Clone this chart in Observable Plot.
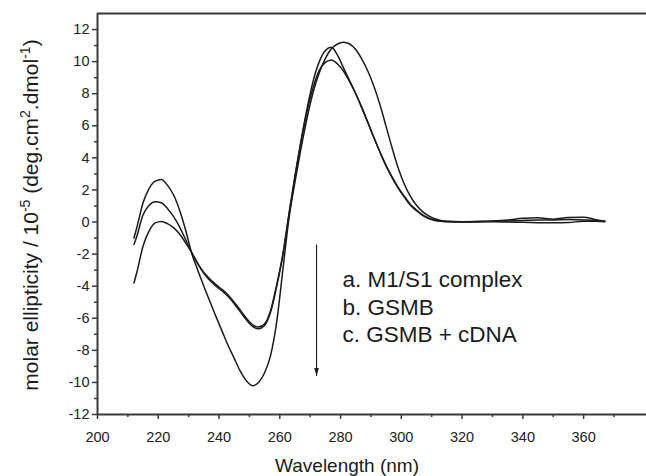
<!DOCTYPE html>
<html><head><meta charset="utf-8">
<script src="https://cdn.jsdelivr.net/npm/d3@7"></script>
<script src="https://cdn.jsdelivr.net/npm/@observablehq/plot@0.6"></script>
<style>body{margin:0;background:#fff;} svg{display:block}</style>
</head><body><div id="chart"></div>
<script>
// Wavelength grid (nm) shared by the three spectra
const wavelength = [212, 213, 215, 217, 219, 221, 223, 225, 227, 229, 231, 233, 235, 237, 239, 241, 243, 245, 247, 249, 251, 253, 255, 257, 259, 261, 263, 265, 267, 269, 271, 273, 275, 277, 279, 281, 283, 285, 287, 289, 291, 293, 295, 297, 299, 301, 303, 305, 307, 309, 311, 313, 315, 320, 325, 330, 335, 340, 345, 350, 355, 360, 364, 367];
// molar ellipticity / 10^-5
const seriesA = [-1.0, -0.3, 1.2, 2.1, 2.55, 2.65, 2.3, 1.7, 0.75, -0.5, -1.95, -3.0, -4.0, -4.95, -5.9, -6.8, -7.7, -8.5, -9.3, -9.9, -10.2, -10.0, -9.4, -8.3, -6.2, -3.0, 0.2, 2.5, 4.6, 6.5, 8.1, 9.3, 10.2, 10.8, 11.1, 11.2, 11.1, 10.75, 10.15, 9.4, 8.45, 7.3, 5.95, 4.6, 3.35, 2.35, 1.6, 1.05, 0.65, 0.38, 0.2, 0.1, 0.05, 0.02, 0.03, 0.06, 0.12, 0.24, 0.27, 0.18, 0.28, 0.3, 0.15, 0.05];
const seriesB = [-1.4, -0.85, 0.45, 1.05, 1.27, 1.2, 0.85, 0.35, -0.3, -1.1, -1.9, -2.6, -3.15, -3.55, -3.9, -4.2, -4.55, -5.0, -5.5, -6.0, -6.4, -6.55, -6.35, -5.5, -3.9, -2.0, 0.5, 2.9, 5.1, 7.1, 8.8, 10.0, 10.7, 10.9, 10.4, 9.6, 8.8, 8.0, 7.15, 6.2, 5.25, 4.35, 3.5, 2.8, 2.15, 1.6, 1.1, 0.75, 0.45, 0.25, 0.12, 0.06, 0.03, 0.01, 0.03, 0.05, 0.07, 0.1, 0.12, 0.12, 0.16, 0.13, 0.1, 0.05];
const seriesC = [-3.8, -3.1, -1.5, -0.55, -0.05, 0.04, -0.1, -0.35, -0.75, -1.3, -1.9, -2.6, -3.2, -3.65, -4.0, -4.3, -4.65, -5.1, -5.6, -6.1, -6.5, -6.65, -6.45, -5.6, -4.0, -2.1, 0.4, 2.8, 5.0, 6.9, 8.4, 9.45, 9.95, 10.1, 9.85, 9.4, 8.75, 8.0, 7.1, 6.2, 5.25, 4.35, 3.5, 2.75, 2.1, 1.55, 1.05, 0.7, 0.42, 0.22, 0.1, 0.04, 0.02, 0.0, 0.0, 0.02, 0.0, -0.02, -0.04, -0.05, -0.03, 0.05, 0.05, 0.02];

const xTicks = [200, 220, 240, 260, 280, 300, 320, 340, 360];
const xMinorTicks = [210, 230, 250, 270, 290, 310, 330, 350, 370];
const yTicks = [-12, -10, -8, -6, -4, -2, 0, 2, 4, 6, 8, 10, 12];
const yMinorTicks = [-11, -9, -7, -5, -3, -1, 1, 3, 5, 7, 9, 11];
const xDomain = [200, 380.7];
const yDomain = [-12, 13];

const legendLabels = ["a. M1/S1 complex", "b. GSMB", "c. GSMB + cDNA"];
const legendX = [280.6, 280.6, 280.6];
const legendY = [-3.6, -5.35, -7.05];
const arrowX = [272.1, 272.1];
const arrowY = [-1.4, -9.6];

const xLabel = "Wavelength (nm)";

const rows = [];
[["a", seriesA], ["b", seriesB], ["c", seriesC]].forEach(([name, vals]) =>
  vals.forEach((v, i) => rows.push({series: name, wl: wavelength[i], v})));

const legendRows = legendLabels.map((t, i) => ({t, x: legendX[i], y: legendY[i]}));

const arrowHead = {
  draw(ctx) {
    ctx.moveTo(0, 0);
    ctx.lineTo(-2.3, -8);
    ctx.lineTo(2.3, -8);
    ctx.closePath();
  }
};

const ink = "#1b1b1b";
const frame = "#3a3a3a";

const plot = Plot.plot({
  width: 646,
  height: 476,
  marginLeft: 97,
  marginRight: 0,
  marginTop: 13,
  marginBottom: 62,
  style: {fontFamily: "'Liberation Sans', Arial, sans-serif", background: "#fff", color: "#222"},
  x: {domain: xDomain, axis: null},
  y: {domain: yDomain, axis: null},
  marks: [
    Plot.axisX({ticks: xTicks, tickSize: 5, tickPadding: 12, fontSize: 14.5, label: null, anchor: "bottom", tickFormat: d => String(d), stroke: frame, strokeWidth: 1.5}),
    Plot.axisX({ticks: xMinorTicks, tickSize: 3, label: null, anchor: "bottom", tickFormat: () => "", stroke: frame, strokeWidth: 1.5}),
    Plot.axisY({ticks: yTicks, tickSize: 5, tickPadding: 3, fontSize: 14.5, label: null, anchor: "left", tickFormat: d => String(d), stroke: frame, strokeWidth: 1.5}),
    Plot.axisY({ticks: yMinorTicks, tickSize: 3, label: null, anchor: "left", tickFormat: () => "", stroke: frame, strokeWidth: 1.5}),
    Plot.ruleY([yDomain[0], yDomain[1]], {stroke: frame, strokeWidth: 2}),
    Plot.ruleX([xDomain[0]], {stroke: frame, strokeWidth: 2}),
    Plot.line(rows, {x: "wl", y: "v", z: "series", stroke: ink, strokeWidth: 1.5, curve: "monotone-x"}),
    Plot.link([0], {x1: () => arrowX[0], y1: () => arrowY[0], x2: () => arrowX[1], y2: () => arrowY[1], stroke: ink, strokeWidth: 1.1}),
    Plot.dot([0], {x: () => arrowX[1], y: () => arrowY[1], symbol: arrowHead, fill: ink, stroke: "none", r: 3}),
    Plot.text(legendRows, {x: "x", y: "y", text: "t", textAnchor: "start", fontSize: 22.5, fill: ink})
  ]
});

document.getElementById("chart").appendChild(plot);

const svg = d3.select(plot);
svg.append("text")
  .attr("x", 347).attr("y", 472)
  .attr("text-anchor", "middle")
  .attr("font-size", 19)
  .attr("fill", ink)
  .text(xLabel);

const yl = svg.append("text")
  .attr("transform", "translate(38,215) rotate(-90)")
  .attr("text-anchor", "middle")
  .attr("font-size", 21)
  .attr("fill", ink);
const parts = [["molar ellipticity / 10", false], ["-5", true], [" (deg.cm", false], ["2", true], [".dmol", false], ["-1", true], [")", false]];
parts.forEach(([s, sup], i) => {
  const t = yl.append("tspan").text(s);
  if (sup) t.attr("font-size", 14).attr("dy", -8.5);
  else if (i > 0) t.attr("dy", 8.5);
});
</script>
</body></html>
